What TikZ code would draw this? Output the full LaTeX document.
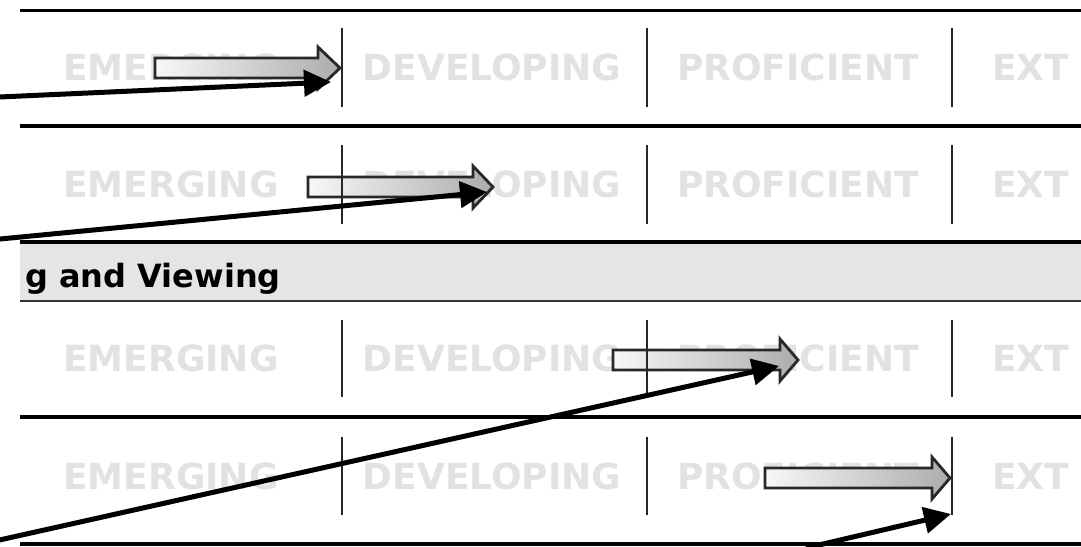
\documentclass[tikz,border=0pt]{standalone}
\usepackage{fontspec}
\setmainfont{DejaVu Sans}
\usetikzlibrary{arrows.meta}
\definecolor{lvlgray}{RGB}{226,226,226}
\definecolor{bandfill}{RGB}{230,228,230}
\definecolor{arrowedge}{RGB}{40,40,40}
\newcommand\myblockarrow[4]{%
  \path[blockarrow] (#1,#4-10) -- (#2,#4-10) -- (#2,#4-21) -- (#3,#4) -- (#2,#4+21) -- (#2,#4+10) -- (#1,#4+10) -- cycle;}
\begin{document}
\begin{tikzpicture}[x=1pt,y=-1pt,
  lvl/.style={font=\fontsize{36}{40}\selectfont\bfseries, text=lvlgray, anchor=base, inner sep=0pt},
  rule/.style={line width=4.8pt, black},
  sep/.style={line width=2.3pt, black!85},
  blockarrow/.style={draw=arrowedge, line width=2.8pt, left color=gray!6, right color=gray!65, line join=miter},
  pointer/.style={line width=5pt, -{Triangle[length=27pt,width=26pt]}}]
\useasboundingbox (0,0) rectangle (1081,546);
\clip (0,0) rectangle (1081,546);
\fill[white] (0,0) rectangle (1081,546);

% band
\fill[bandfill] (20,242) rectangle (1081,301);
\begin{scope}
\clip (20,242) rectangle (1081,301);
\node[font=\fontsize{32}{36}\selectfont\bfseries, anchor=base west, inner sep=0pt] (band) at (25,287) {g and Viewing};
\end{scope}

% horizontal rules
\draw[line width=3pt] (20,10) -- (1081,10);
\draw[rule] (20,126) -- (1081,126);
\draw[rule] (20,242) -- (1081,242);
\draw[line width=2.4pt, black!80] (20,301) -- (1081,301);
\draw[rule] (20,417) -- (1081,417);
\draw[rule] (20,544) -- (1081,544);

% level labels
\foreach \r/\b in {1/80, 2/197, 3/371, 4/489}{
  \node[lvl] (e\r) at (171,\b) {EMERGING};
  \node[lvl] (d\r) at (492,\b) {DEVELOPING};
  \node[lvl] (p\r) at (798,\b) {PROFICIENT};
  \node[lvl, anchor=base west] (x\r) at (992,\b) {EXT};
}

% block arrows
\myblockarrow{155}{318}{340}{68}
\myblockarrow{308}{473}{493}{187}
\myblockarrow{613}{780}{798}{360}
\myblockarrow{765}{932}{950}{478}

% separators
\foreach \r/\ya/\yb in {1/28/107, 2/145/224, 3/320/397, 4/437/515}{
  \foreach \x in {342,647,952}{
    \draw[sep] (\x,\ya) -- (\x,\yb);
  }
}

% pointers
\coordinate (s1) at (-5,97.2);
\coordinate (t1) at (331,82);
\coordinate (s2) at (-5,239.5);
\coordinate (t2) at (487,192);
\coordinate (s3) at (-5,541);
\coordinate (t3) at (779,366);
\coordinate (s4) at (806,548);
\coordinate (t4) at (951,514);
\draw[pointer] (s1) -- (t1);
\draw[pointer] (s2) -- (t2);
\draw[pointer] (s3) -- (t3);
\draw[pointer] (s4) -- (t4);
\end{tikzpicture}
\end{document}
